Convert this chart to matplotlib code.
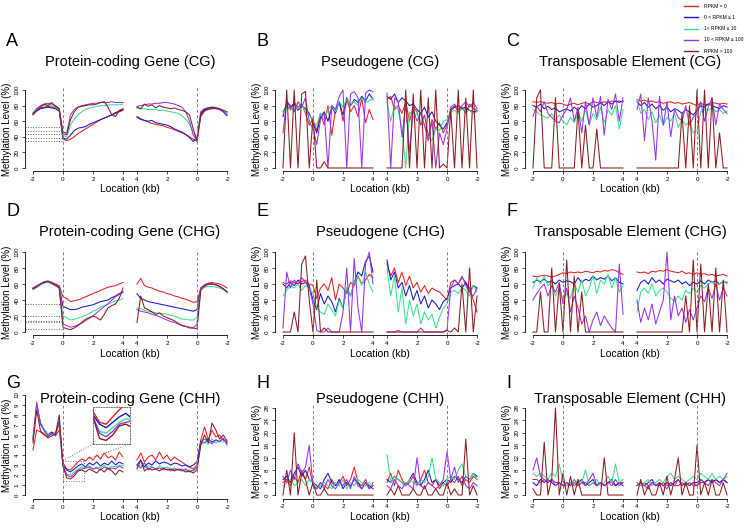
import matplotlib.pyplot as plt

plt.rcParams['font.family'] = ['Liberation Sans', 'DejaVu Sans']

# bins (kb): left block runs -2 -> 4 around the TSS, right block 4 -> -2 around the TES
left_kb = [-2, -1.75, -1.5, -1.25, -1, -0.75, -0.5, -0.25, 0, 0.25, 0.5, 0.75, 1,
           1.25, 1.5, 1.75, 2, 2.25, 2.5, 2.75, 3, 3.25, 3.5, 3.75, 4]
right_kb = [4, 3.75, 3.5, 3.25, 3, 2.75, 2.5, 2.25, 2, 1.75, 1.5, 1.25, 1,
            0.75, 0.5, 0.25, 0, -0.25, -0.5, -0.75, -1, -1.25, -1.5, -1.75, -2]

classes = ['RPKM = 0', '0 < RPKM \u2264 1', '1< RPKM \u2264 10', '10 < RPKM \u2264 100', 'RPKM > 100']
colors = ['#e8221e', '#1818c8', '#36e28a', '#9c30ee', '#8b1c1c']

# each list: 25 left-block values followed by 25 right-block values
# --- protein-coding gene, CG
gene_cg_0 = [70,74,77,78,79,78,77,74,37,35,37,40,44,47,50,53,56,59,62,64,66,68,70,72,74,
             65,62,61,59,57,56,55,54,52,51,49,47,45,43,40,37,34,66,73,75,76,76,75,73,70]
gene_cg_1 = [69,73,76,77,78,77,76,73,38,37,42,48,51,52,53,56,58,60,62,64,66,68,71,73,75,
             66,63,61,60,61,58,57,56,55,53,50,48,46,43,39,34,40,68,74,76,77,77,75,72,67]
gene_cg_2 = [71,76,79,80,81,80,78,75,42,40,55,63,68,72,75,77,78,79,80,80,81,81,81,81,82,
             77,76,76,75,75,75,74,74,73,72,71,70,67,63,56,45,38,72,76,77,78,78,76,74,70]
gene_cg_3 = [70,76,80,82,83,82,80,76,46,45,68,75,78,80,81,82,83,83,84,84,84,85,84,84,84,
             79,80,81,82,82,83,83,84,84,83,82,80,78,72,60,42,36,72,76,77,78,77,75,72,68]
gene_cg_4 = [68,74,78,82,80,84,79,76,44,43,62,72,78,79,80,81,81,82,84,85,78,68,66,74,76,
             78,76,82,79,81,77,80,78,77,76,77,75,74,72,68,50,35,70,75,77,78,77,76,74,72]

# --- pseudogene, CG
pseudo_cg_0 = [72,80,76,84,78,82,70,55,62,48,70,55,80,42,75,85,60,88,72,80,66,90,58,75,62,
               88,92,75,80,70,85,60,78,72,55,68,40,62,50,58,45,55,75,80,72,78,70,82,76,74]
pseudo_cg_1 = [66,85,78,82,74,80,76,70,58,45,65,72,60,78,70,85,68,90,80,88,84,92,86,95,88,
               92,88,95,84,90,86,80,82,75,70,78,65,72,60,55,50,58,74,78,80,76,78,74,72,73]
pseudo_cg_2 = [70,78,74,80,76,82,72,68,60,55,70,62,75,80,72,85,78,88,82,85,80,90,84,86,90,
               85,60,80,75,50,0,72,65,70,60,55,40,35,50,48,60,62,72,74,70,76,72,74,70,72]
pseudo_cg_3 = [45,86,80,72,85,78,90,60,50,30,62,70,0,80,75,92,100,0,95,98,90,0,96,100,98,
               96,0,90,85,40,82,20,75,60,70,55,35,60,0,45,30,50,78,82,75,80,85,78,84,76]
pseudo_cg_4 = [0,100,0,100,0,95,98,0,65,0,0,8,0,0,0,0,0,0,0,0,0,0,0,0,0,
               0,0,0,0,0,100,0,95,0,100,0,90,0,100,0,5,0,75,0,100,0,90,0,100,0]

# --- transposable element, CG
te_cg_0 = [85,84,85,84,83,84,82,83,82,80,82,83,81,83,84,82,85,84,83,85,84,86,85,86,85,
           88,86,87,85,86,84,85,83,84,85,83,84,82,83,84,82,80,83,81,82,84,83,82,83,82]
te_cg_1 = [80,78,82,76,79,75,77,72,74,76,73,78,74,80,76,82,78,80,84,80,85,82,86,84,86,
           85,80,84,78,82,76,80,74,78,72,76,74,70,75,72,68,74,80,78,82,80,78,76,80,78]
te_cg_2 = [75,72,68,66,64,70,62,68,60,55,65,58,72,60,75,55,70,62,78,58,74,68,80,50,75,
           88,70,75,62,72,58,68,55,65,60,70,52,62,55,60,45,48,72,76,74,78,72,75,70,73]
te_cg_3 = [66,80,72,85,70,65,60,58,68,75,90,60,78,45,85,55,90,65,92,42,88,75,95,60,90,
           75,95,35,90,60,10,92,55,85,40,75,65,60,80,55,65,70,85,60,78,90,55,82,75,70]
te_cg_4 = [0,90,100,0,0,0,90,0,0,0,0,0,75,0,55,0,0,50,0,0,0,0,0,0,0,
           0,0,0,0,0,0,0,0,0,0,0,0,70,0,80,0,100,0,100,0,90,0,45,0,0]

# --- protein-coding gene, CHG
gene_chg_0 = [55,58,60,62,63,62,60,58,44,42,38,39,40,42,44,46,48,50,52,54,56,57,58,60,62,
              60,67,58,56,55,53,51,50,48,47,45,44,42,41,39,37,38,55,59,61,62,61,60,58,55]
gene_chg_1 = [54,57,60,62,63,61,59,56,32,30,28,28,29,31,32,33,34,36,38,39,40,43,45,48,50,
              48,42,40,38,37,36,35,34,33,32,31,30,29,28,27,26,28,55,58,60,60,59,57,54,50]
gene_chg_2 = [53,56,59,61,62,60,58,55,20,18,15,16,17,19,21,23,26,28,31,33,35,37,39,40,42,
              30,29,27,26,25,24,23,23,22,21,20,18,16,16,15,15,18,54,56,57,57,56,55,53,50]
gene_chg_3 = [55,57,60,63,64,62,59,56,10,8,6,7,9,11,14,17,20,24,28,32,35,40,44,47,50,
              28,26,25,24,22,21,19,17,15,13,12,10,8,7,6,5,10,55,58,60,60,59,57,54,50]
gene_chg_4 = [54,56,60,62,63,61,58,55,6,4,3,5,8,12,16,18,20,18,15,22,30,33,35,42,55,
              12,45,30,28,25,22,24,20,18,16,14,11,8,7,5,5,4,52,57,60,60,59,57,54,50]

# --- pseudogene, CHG
pseudo_chg_0 = [62,60,64,62,60,63,65,60,58,42,55,60,52,68,40,60,55,48,62,58,70,60,65,72,68,
                85,70,80,62,75,58,70,55,62,50,58,48,55,52,50,45,40,62,65,60,68,62,55,40,25]
pseudo_chg_1 = [60,55,62,58,65,60,62,58,40,28,48,35,45,38,25,42,30,55,45,62,75,70,88,95,75,
                90,65,75,55,62,45,58,40,52,35,45,30,40,35,28,38,42,55,58,60,55,62,50,58,55]
pseudo_chg_2 = [45,52,58,55,60,52,58,55,48,30,25,22,35,28,20,40,30,55,45,62,70,58,75,60,50,
                80,45,70,25,55,10,40,20,35,10,25,15,22,5,18,30,35,50,52,48,55,52,45,58,50]
pseudo_chg_3 = [5,75,55,65,60,68,62,55,35,2,0,0,5,0,0,0,25,80,0,92,30,0,85,100,60,
                0,0,0,2,0,0,0,0,0,5,0,0,0,0,0,0,3,55,65,60,70,58,50,45,55]
pseudo_chg_4 = [0,0,0,25,0,85,95,40,0,65,0,5,0,0,0,0,0,0,0,0,0,0,0,0,0,
                0,0,0,0,0,0,0,0,0,0,0,0,0,0,0,0,2,0,5,0,60,0,80,0,45]

# --- transposable element, CHG
te_chg_0 = [70,69,70,71,70,69,70,72,74,73,75,74,75,74,76,75,74,76,75,77,76,78,77,74,72,
            75,74,75,73,76,75,77,76,78,76,75,74,76,73,74,72,74,72,73,71,72,70,71,72,70]
te_chg_1 = [62,65,63,66,62,64,60,65,62,64,63,60,68,62,66,64,70,65,68,66,70,64,68,62,60,
            52,62,65,60,68,62,65,60,66,64,62,65,60,63,58,62,60,64,60,65,62,64,60,63,62]
te_chg_2 = [55,68,60,70,58,62,45,55,40,48,42,60,50,65,45,55,70,48,65,60,72,55,68,50,58,
            25,50,55,48,60,45,52,55,50,42,38,45,40,52,48,55,50,58,55,60,62,58,60,64,60]
te_chg_3 = [40,48,55,60,45,58,50,62,35,55,25,45,30,10,20,0,15,25,8,20,12,5,0,85,22,
            40,12,30,15,35,10,25,40,100,15,45,20,30,12,28,15,30,45,38,55,42,60,40,55,45]
te_chg_4 = [0,0,50,0,0,80,0,60,0,90,0,70,0,50,0,0,0,0,0,0,0,0,0,0,0,
            0,0,0,0,0,0,0,0,0,0,0,0,0,45,0,90,0,85,0,60,0,80,0,65,0]

# --- protein-coding gene, CHH
gene_chh_0 = [4.5,6.5,6.3,6.0,5.8,6.2,5.9,6.5,3.2,2.6,2.5,2.9,3.3,3.6,3.4,3.8,3.5,4.0,3.6,4.2,3.7,3.9,3.5,4.3,3.8,
              3.5,4.2,3.3,3.8,4.0,3.5,4.3,3.6,4.0,3.4,3.8,3.5,3.3,3.0,2.8,2.6,3.0,5.5,6.8,5.5,6.5,5.8,6.0,5.5,5.2]
gene_chh_1 = [5.5,9.0,7.2,6.5,6.0,6.3,6.1,7.4,3.0,2.5,2.3,2.6,2.9,3.1,2.8,3.2,3.0,3.3,2.9,3.2,3.0,3.4,3.0,3.3,3.1,
              3.0,3.5,2.8,3.2,3.0,3.4,3.1,3.3,3.2,3.0,3.2,3.1,2.9,3.0,2.8,3.0,3.3,5.4,5.2,5.6,5.3,5.5,5.4,5.6,5.2]
gene_chh_2 = [5.8,8.8,7.0,6.6,6.1,6.0,6.2,7.0,2.8,2.1,2.0,2.3,2.6,2.8,2.7,2.9,2.6,2.8,2.7,3.0,2.6,2.9,2.8,3.0,2.9,
              2.8,3.0,2.7,2.9,2.8,2.6,2.9,2.7,2.8,2.6,2.7,2.5,2.6,2.4,2.5,2.4,2.8,5.0,5.3,5.1,5.6,5.2,5.5,5.3,5.5]
gene_chh_3 = [5.6,9.3,7.1,6.4,5.9,6.1,6.0,7.2,2.9,2.0,1.8,2.1,2.5,2.6,2.7,2.8,2.6,2.7,2.5,2.8,2.6,2.7,2.6,2.9,2.7,
              3.0,2.7,3.2,2.5,2.8,2.6,2.7,2.5,2.6,2.4,2.6,2.5,2.4,2.6,2.3,2.5,2.7,5.3,5.6,5.4,5.1,5.5,5.3,5.7,5.0]
gene_chh_4 = [5.2,8.5,6.4,6.1,5.7,5.9,6.1,8.0,2.9,1.7,1.6,1.9,2.4,2.5,2.3,2.6,2.4,2.2,2.6,2.3,2.7,2.4,2.0,2.5,2.3,
              2.6,3.5,2.4,2.7,2.5,2.6,2.4,2.7,2.5,2.6,2.4,2.6,2.5,2.3,2.4,2.2,2.5,5.0,6.0,5.2,7.2,6.5,5.6,6.0,5.4]

# --- pseudogene, CHH
pseudo_chh_0 = [4,5,3,6,4,8,5,9,3,2,4,3,2,5,3,4,6,3,5,9,4,3,5,2,4,
                4,7,3,8,5,3,4,6,3,5,8,4,3,5,2,4,3,5,4,6,3,5,4,6,5]
pseudo_chh_1 = [5,6,4,7,9,6,8,5,4,3,2,5,7,4,3,5,2,4,3,5,4,2,4,3,2,
                5,4,6,5,4,3,5,7,4,3,5,8,4,5,3,4,5,4,6,5,4,6,5,7,6]
pseudo_chh_2 = [3,4,5,3,4,5,3,5,4,2,3,4,3,2,4,3,5,2,4,3,5,4,3,4,3,
                13,4,6,5,4,3,5,4,3,5,4,6,12,5,4,3,5,6,5,8,10,6,5,7,5]
pseudo_chh_3 = [6,4,8,5,10,7,9,16,3,2,4,2,5,3,2,4,3,5,2,6,3,2,4,2,3,
                3,2,5,3,2,4,3,2,12,3,2,4,3,2,3,5,14,5,9,4,6,3,2,4,3]
pseudo_chh_4 = [0,8,0,20,0,7,5,0,4,0,0,2,0,0,0,0,0,0,0,0,0,0,0,0,0,
                0,2,0,3,0,0,0,2,0,0,3,0,0,2,0,0,4,0,2,0,0,18,0,3,0]

# --- transposable element, CHH
te_chh_0 = [5,5,4,5,4,5,4,4,3,4,3,4,3,4,4,3,4,3,4,3,4,4,3,4,4,
            4,3,4,3,4,3,3,4,3,4,3,3,4,3,4,3,3,4,4,5,4,5,4,5,4]
te_chh_1 = [4,3,5,4,5,4,3,4,3,3,4,3,4,5,3,4,5,3,4,3,4,5,3,4,3,
            3,4,3,4,5,3,4,3,4,3,4,5,3,4,3,4,4,5,4,5,4,5,4,5,4]
te_chh_2 = [7,6,7,6,5,7,6,10,4,3,4,3,5,4,8,3,4,5,3,4,6,4,10,4,5,
            4,3,4,5,3,4,5,4,6,7,5,6,5,4,5,6,5,7,6,5,7,5,6,5,6]
te_chh_3 = [8,12,6,5,4,5,3,4,3,4,3,5,3,4,3,5,7,3,4,3,4,3,5,3,4,
            3,4,3,2,4,3,4,3,2,4,3,5,3,4,3,4,3,5,4,3,5,4,3,5,7]
te_chh_4 = [2,0,0,17,0,5,28,0,7,0,6,0,5,0,0,0,0,0,0,12,0,0,0,0,0,
            0,5,0,3,0,0,4,0,6,0,5,12,0,4,0,0,16,0,4,0,5,0,0,4,0]

# dotted guide levels drawn up to the TSS
gene_cg_guides = [35, 39, 43, 48, 52]
gene_chg_guides = [4, 12, 14, 20, 35]

W, H = 746, 528
fig = plt.figure(figsize=(W / 100, H / 100), dpi=100)

GAP = 0.93
left_pos = [k + 2 for k in left_kb]
right_pos = [6 + GAP + (4 - k) for k in right_kb]
xmax = right_pos[-1]
pad = 0.04 * xmax


def px_axes(x0, y0, x1, y1):
    return fig.add_axes([x0 / W, 1 - y1 / H, (x1 - x0) / W, (y1 - y0) / H])


def px_text(x, y, s, **kw):
    return fig.text(x / W, 1 - y / H, s, **kw)


def draw_panel(ax, series, ytop, yticks, guides=None):
    for vals, c in zip(series, colors):
        ax.plot(left_pos, vals[:25], color=c, lw=0.75)
        ax.plot(right_pos, vals[25:], color=c, lw=0.75)
    for xv in (2, 6 + GAP + 4):
        ax.axvline(xv, color='#808080', ls=(0, (3, 2.5)), lw=0.7)
    if guides:
        ax.hlines(guides, -pad, 2, colors='#606060', linestyles=':', lw=0.7)
    ax.set_xlim(-pad, xmax + pad)
    ax.set_ylim(-0.04 * ytop, 1.04 * ytop)
    for s in ('top', 'right'):
        ax.spines[s].set_visible(False)
    ax.spines['left'].set_bounds(yticks[0], yticks[-1])
    ax.spines['bottom'].set_bounds(0, xmax)
    for s in ('left', 'bottom'):
        ax.spines[s].set_linewidth(0.6)
    ax.set_xticks([0, 2, 4, 6, 6 + GAP, 8 + GAP, 10 + GAP, 12 + GAP])
    ax.set_xticklabels(['-2', '0', '2', '4', '4', '2', '0', '-2'])
    ax.set_yticks(yticks)
    ax.set_yticklabels([str(v) for v in yticks], rotation=90, va='center')
    ax.tick_params(labelsize=4.5, length=2.5, width=0.5, pad=1.5)
    ax.set_xlabel('Location (kb)', fontsize=7.5, labelpad=2)
    ax.set_ylabel('Methylation Level (%)', fontsize=7, labelpad=2)


col_x = [25.2, 275.2, 525.2]
col_w = 209.6
row_letter_y = [42, 212, 383]
row_title_y = [62, 232, 399]

pct = [0, 20, 40, 60, 80, 100]
chh_ticks = [0, 4, 8, 12, 16, 20, 24, 28]
panels = [
    ('A', 'Protein-coding Gene (CG)', [gene_cg_0, gene_cg_1, gene_cg_2, gene_cg_3, gene_cg_4], 0, 0, (86.9, 171.1), 100, pct, gene_cg_guides),
    ('B', 'Pseudogene (CG)', [pseudo_cg_0, pseudo_cg_1, pseudo_cg_2, pseudo_cg_3, pseudo_cg_4], 1, 0, (86.9, 171.1), 100, pct, None),
    ('C', 'Transposable Element (CG)', [te_cg_0, te_cg_1, te_cg_2, te_cg_3, te_cg_4], 2, 0, (86.9, 171.1), 100, pct, None),
    ('D', 'Protein-coding Gene (CHG)', [gene_chg_0, gene_chg_1, gene_chg_2, gene_chg_3, gene_chg_4], 0, 1, (248.8, 335.2), 100, pct, gene_chg_guides),
    ('E', 'Pseudogene (CHG)', [pseudo_chg_0, pseudo_chg_1, pseudo_chg_2, pseudo_chg_3, pseudo_chg_4], 1, 1, (248.8, 335.2), 100, pct, None),
    ('F', 'Transposable Element (CHG)', [te_chg_0, te_chg_1, te_chg_2, te_chg_3, te_chg_4], 2, 1, (248.8, 335.2), 100, pct, None),
    ('G', 'Protein-coding Gene (CHH)', [gene_chh_0, gene_chh_1, gene_chh_2, gene_chh_3, gene_chh_4], 0, 2, (391, 499), 10, list(range(11)), None),
    ('H', 'Pseudogene (CHH)', [pseudo_chh_0, pseudo_chh_1, pseudo_chh_2, pseudo_chh_3, pseudo_chh_4], 1, 2, (404.5, 498.5), 28, chh_ticks, None),
    ('I', 'Transposable Element (CHH)', [te_chh_0, te_chh_1, te_chh_2, te_chh_3, te_chh_4], 2, 2, (404.5, 498.5), 28, chh_ticks, None),
]

axes = {}
for letter, title, series, col, row, (y0, y1), ytop, yticks, guides in panels:
    ax = px_axes(col_x[col], y0, col_x[col] + col_w, y1)
    draw_panel(ax, series, ytop, yticks, guides)
    axes[letter] = ax
    px_text(col_x[col] - 19, row_letter_y[row], letter, fontsize=13, ha='left', va='center')
    px_text(col_x[col] + col_w / 2, row_title_y[row], title, fontsize=10.5, ha='center', va='center')

# zoomed inset in panel G (gene body just after the TSS)
axg = axes['G']
box_x, box_y = (2.0, 3.4), (1.4, 3.45)
axg.plot([box_x[0], box_x[1], box_x[1], box_x[0], box_x[0]],
         [box_y[0], box_y[0], box_y[1], box_y[1], box_y[0]], color='#707070', ls=':', lw=0.7)
ins_x, ins_y = (4.0, 6.45), (5.1, 8.8)
axg.plot([box_x[0], ins_x[0]], [box_y[1], ins_y[0]], color='#707070', ls=':', lw=0.7, clip_on=False)
axg.plot([box_x[1], ins_x[1]], [box_y[1], ins_y[0]], color='#707070', ls=':', lw=0.7, clip_on=False)
ins = axg.inset_axes([ins_x[0], ins_y[0], ins_x[1] - ins_x[0], ins_y[1] - ins_y[0]], transform=axg.transData)
for vals, c in zip([gene_chh_0, gene_chh_1, gene_chh_2, gene_chh_3, gene_chh_4], colors):
    ins.plot(left_pos, vals[:25], color=c, lw=1.0)
ins.set_xlim(*box_x)
ins.set_ylim(*box_y)
ins.set_xticks([])
ins.set_yticks([])
for s in ins.spines.values():
    s.set_linestyle(':')
    s.set_color('#707070')
    s.set_linewidth(0.7)

# legend (top right)
for i, (lab, c) in enumerate(zip(classes, colors)):
    yy = 6 + 11.3 * i
    fig.add_artist(plt.Line2D([684 / W, 698 / W], [1 - yy / H, 1 - yy / H], color=c, lw=1.0))
    px_text(704, yy, lab, fontsize=3.6, va='center', ha='left')

fig.savefig('out.png', dpi=100)
